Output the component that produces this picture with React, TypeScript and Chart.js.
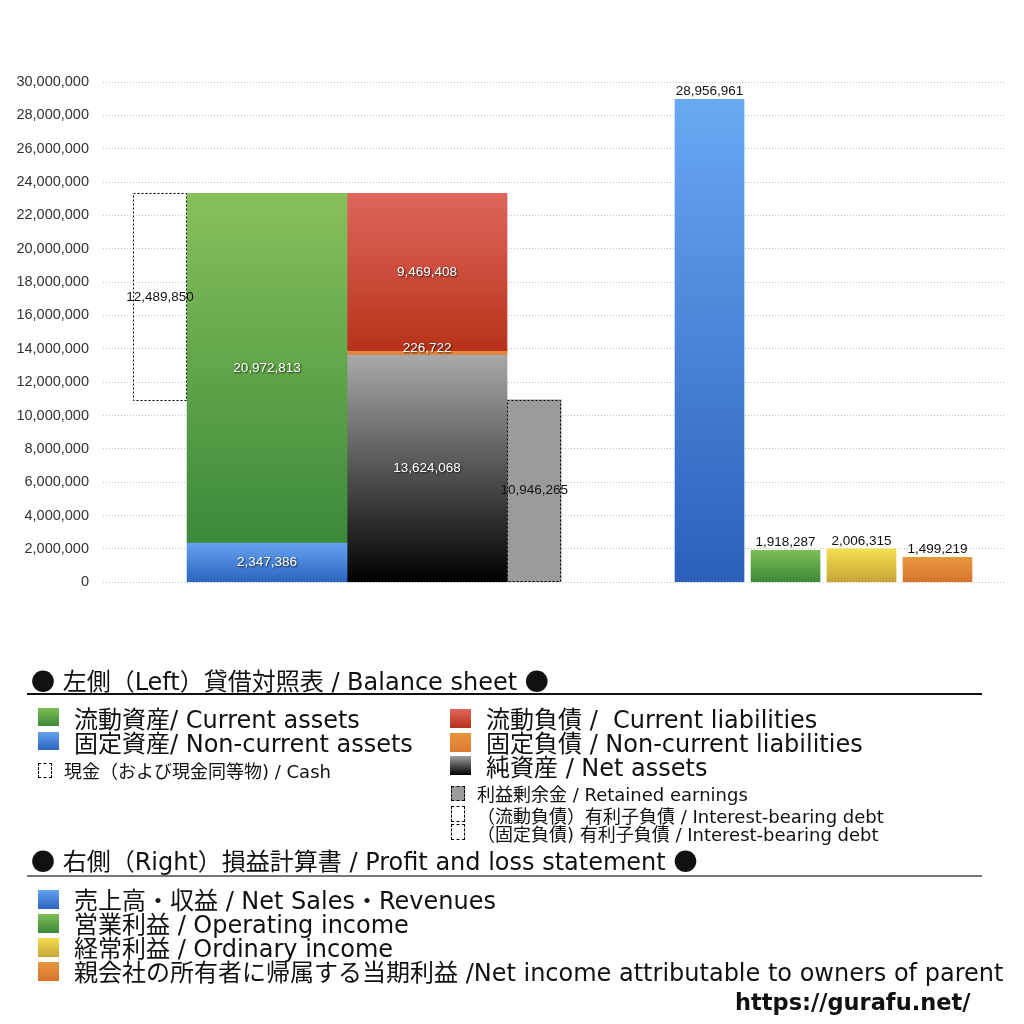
import { useEffect, useRef } from 'react';
import { Chart, registerables, type Plugin } from 'chart.js';

Chart.register(...registerables);

// 貸借対照表 (left side), bottom → top
const assetLabels = ['固定資産', '流動資産'];
const assetValues = [2347386, 20972813];
const claimLabels = ['純資産', '固定負債', '流動負債'];
const claimValues = [13624068, 226722, 9469408];
const cashValue = 12489850;
const retainedValue = 10946265;

// 損益計算書 (right side)
const plLabels = ['売上高・収益', '営業利益', '経常利益', '親会社の所有者に帰属する当期利益'];
const plValues = [28956961, 1918287, 2006315, 1499219];

const yMax = 30000000;
const yStep = 2000000;

// layout: slots on a hidden linear x axis (0..120)
const X_MAX = 120;
const X_CASH = 7.57;
const X_ASSETS = 21.8;
const X_CLAIMS = 43.06;
const X_RETAINED = 57.3;
const X_PL = [80.6, 90.7, 100.8, 110.9];

const NUM_FONT = '"Liberation Sans", Arial, sans-serif';
const FONT = '"DejaVu Sans", "Noto Sans CJK JP", sans-serif';
const CJK = '"Noto Sans CJK JP", sans-serif';

const ASSET_COLORS = [['#64a2ee', '#2d64c0'], ['#88c15b', '#3b893a']];
const CLAIM_COLORS = [['#a9a9a9', '#000000'], ['#ea8a3c', '#e07f32'], ['#de665c', '#b8321a']];
const PL_COLORS = [['#69a9f3', '#2c5fba'], ['#7ebe56', '#3d893a'], ['#f3df4f', '#c7a537'], ['#e6973f', '#d8742e']];

const grad = (top: string, bottom: string) => (c: any) => {
  const chart = c.chart;
  const y = chart.scales?.y;
  const raw = c.raw;
  if (!y || !raw || !chart.chartArea) return bottom;
  const v = raw.y;
  const lo = Array.isArray(v) ? Math.min(v[0], v[1]) : 0;
  const hi = Array.isArray(v) ? Math.max(v[0], v[1]) : v;
  const g = chart.ctx.createLinearGradient(0, y.getPixelForValue(hi), 0, y.getPixelForValue(lo));
  g.addColorStop(0, top);
  g.addColorStop(1, bottom);
  return g;
};

function stackRanges(values: number[]) {
  let acc = 0;
  return values.map(v => { const lo = acc; acc += v; return [lo, acc]; });
}

const barDecor: Plugin = {
  id: 'barDecor',
  afterDatasetsDraw(chart) {
    const ctx = chart.ctx;
    chart.data.datasets.forEach((ds: any, di) => {
      const meta = chart.getDatasetMeta(di);
      meta.data.forEach((el: any) => {
        if (!ds.dashed) return;
        const top = Math.min(el.y, el.base);
        const h = Math.abs(el.base - el.y);
        ctx.save();
        ctx.strokeStyle = '#000';
        ctx.lineWidth = 1;
        ctx.setLineDash([2, 2]);
        ctx.strokeRect(Math.round(el.x - el.width / 2) + 0.5, Math.round(top) + 0.5, Math.round(el.width) - 1, Math.round(h) - 1);
        ctx.restore();
      });
    });
    chart.data.datasets.forEach((ds: any, di) => {
      const meta = chart.getDatasetMeta(di);
      meta.data.forEach((el: any, i) => {
        const raw: any = ds.data[i];
        const v = Array.isArray(raw.y) ? raw.y[1] - raw.y[0] : raw.y;
        const text = v.toLocaleString('en-US');
        ctx.save();
        ctx.font = `13.5px ${NUM_FONT}`;
        ctx.textAlign = 'center';
        if (ds.labelMode === 'above') {
          ctx.textBaseline = 'bottom';
          ctx.fillStyle = '#111';
          ctx.fillText(text, el.x, Math.min(el.y, el.base) - 1);
        } else {
          ctx.textBaseline = 'middle';
          const cy = (el.y + el.base) / 2 + (ds.labelDy || 0);
          if (ds.labelMode === 'white') {
            ctx.shadowColor = 'rgba(0,0,0,0.75)';
            ctx.shadowBlur = 2;
            ctx.shadowOffsetX = 1;
            ctx.shadowOffsetY = 1;
            ctx.fillStyle = '#fff';
          } else {
            ctx.fillStyle = '#111';
          }
          ctx.fillText(text, el.x, cy);
        }
        ctx.restore();
      });
    });
  },
};

function BalanceChart() {
  const canvasRef = useRef<HTMLCanvasElement>(null);
  const chartRef = useRef<Chart | null>(null);

  useEffect(() => {
    if (!canvasRef.current) return;
    chartRef.current?.destroy();

    const assetRanges = stackRanges(assetValues);
    const claimRanges = stackRanges(claimValues);
    const assetTotal = assetRanges[assetRanges.length - 1][1];

    const datasets: any[] = [
      ...assetLabels.map((label, i) => ({
        label,
        data: [{ x: X_ASSETS, y: assetRanges[i] }],
        barThickness: 160,
        backgroundColor: grad(ASSET_COLORS[i][0], ASSET_COLORS[i][1]),
        labelMode: 'white',
      })),
      ...claimLabels.map((label, i) => ({
        label,
        data: [{ x: X_CLAIMS, y: claimRanges[i] }],
        barThickness: 160,
        backgroundColor: grad(CLAIM_COLORS[i][0], CLAIM_COLORS[i][1]),
        labelMode: 'white',
        labelDy: i === 1 ? -5 : 0,
      })),
      {
        label: '現金',
        data: [{ x: X_CASH, y: [assetTotal - cashValue, assetTotal] }],
        barThickness: 54,
        backgroundColor: 'rgba(255,255,255,0)',
        dashed: true,
        labelMode: 'black',
      },
      {
        label: '利益剰余金',
        data: [{ x: X_RETAINED, y: [0, retainedValue] }],
        barThickness: 54,
        backgroundColor: '#9b9b9b',
        dashed: true,
        labelMode: 'black',
      },
      {
        label: '損益計算書',
        data: plValues.map((v, i) => ({ x: X_PL[i], y: v })),
        barThickness: 69,
        backgroundColor: (c: any) => {
          const col = PL_COLORS[c.dataIndex] || PL_COLORS[0];
          return grad(col[0], col[1])(c);
        },
        labelMode: 'above',
      },
    ];
    datasets.forEach(d => { d.grouped = false; d.borderWidth = 0; });

    chartRef.current = new Chart(canvasRef.current, {
      type: 'bar',
      data: { labels: plLabels, datasets },
      options: {
        animation: false,
        responsive: true,
        maintainAspectRatio: false,
        layout: { padding: { top: 82, right: 18, bottom: 18, left: 0 } },
        plugins: { legend: { display: false }, tooltip: { enabled: false } },
        scales: {
          x: { type: 'linear', min: 0, max: X_MAX, display: false, offset: false },
          y: {
            min: 0,
            max: yMax,
            ticks: {
              stepSize: yStep,
              callback: (v: any) => Number(v).toLocaleString('en-US'),
              font: { size: 14.5, family: NUM_FONT },
              color: '#333',
              padding: 14,
            },
            grid: { color: '#c4c4c4', drawTicks: false, lineWidth: 1 },
            border: { display: false, dash: [1, 2] },
            afterFit: (s: any) => { s.width = 103; },
          },
        },
      },
      plugins: [barDecor],
    } as any);

    return () => { chartRef.current?.destroy(); chartRef.current = null; };
  }, []);

  return (
    <div style={{ position: 'absolute', left: 0, top: 0, width: 1024, height: 605 }}>
      <canvas ref={canvasRef} />
    </div>
  );
}

function Swatch({ x, cy, w, h, bg, dashed }: { x: number; cy: number; w: number; h: number; bg: string; dashed?: boolean }) {
  return (
    <div style={{
      position: 'absolute', left: x, top: cy - h / 2, width: w, height: h, background: bg,
      border: dashed ? '1px dashed #000' : 'none', boxSizing: 'border-box',
    }} />
  );
}

function Text({ x, cy, size, children, bold }: { x: number; cy: number; size: number; children: any; bold?: boolean }) {
  return (
    <div style={{
      position: 'absolute', left: x, top: cy - 16, height: 32, display: 'flex', alignItems: 'center',
      fontSize: size, fontWeight: bold ? 700 : 400, whiteSpace: 'pre', color: '#111',
    }}><span>{children}</span></div>
  );
}

const Dot = () => <span style={{ fontFamily: CJK }}>●</span>;

const lg = (a: string, b: string) => `linear-gradient(${a}, ${b})`;

function Legend() {
  return (
    <div style={{ position: 'absolute', left: 0, top: 0, width: 1024, height: 1024, fontFamily: FONT }}>
      <Text x={31} cy={679} size={24}><Dot /> 左側（Left）貸借対照表 / Balance sheet <Dot /></Text>
      <div style={{ position: 'absolute', left: 27, top: 693, width: 955, height: 1.5, background: '#111' }} />

      <Swatch x={38} cy={717} w={21} h={18} bg={lg('#7dbd55', '#3d8a3b')} />
      <Text x={74} cy={717} size={24}>流動資産/ Current assets</Text>
      <Swatch x={38} cy={741} w={21} h={18} bg={lg('#64a2ee', '#2d64c0')} />
      <Text x={74} cy={741} size={24}>固定資産/ Non-current assets</Text>
      <Swatch x={38} cy={770} w={14} h={15} bg="#fff" dashed />
      <Text x={64} cy={770} size={18}>現金（および現金同等物) / Cash</Text>

      <Swatch x={450} cy={718} w={21} h={19} bg={lg('#de665c', '#b8321a')} />
      <Text x={486} cy={717} size={24}>流動負債 /  Current liabilities</Text>
      <Swatch x={450} cy={742} w={21} h={19} bg={lg('#e9923e', '#dc7a2e')} />
      <Text x={486} cy={741} size={24}>固定負債 / Non-current liabilities</Text>
      <Swatch x={450} cy={765} w={21} h={19} bg={lg('#a0a0a0', '#000')} />
      <Text x={486} cy={765} size={24}>純資産 / Net assets</Text>
      <Swatch x={451} cy={793} w={14} h={15} bg="#9b9b9b" dashed />
      <Text x={477} cy={793} size={18}>利益剰余金 / Retained earnings</Text>
      <Swatch x={451} cy={814} w={14} h={16} bg="#fff" dashed />
      <Text x={477} cy={815} size={18}>（流動負債）有利子負債 / Interest-bearing debt</Text>
      <Swatch x={451} cy={832} w={14} h={16} bg="#fff" dashed />
      <Text x={477} cy={833} size={18}>（固定負債) 有利子負債 / Interest-bearing debt</Text>

      <Text x={31} cy={859} size={24}><Dot /> 右側（Right）損益計算書 / Profit and loss statement <Dot /></Text>
      <div style={{ position: 'absolute', left: 27, top: 875, width: 955, height: 1.5, background: '#777' }} />

      <Swatch x={38} cy={899} w={21} h={19} bg={lg('#64a2ee', '#2d64c0')} />
      <Text x={74} cy={898} size={24}>売上高・収益 / Net Sales・Revenues</Text>
      <Swatch x={38} cy={923} w={21} h={19} bg={lg('#7dbd55', '#3d8a3b')} />
      <Text x={74} cy={922} size={24}>営業利益 / Operating income</Text>
      <Swatch x={38} cy={947} w={21} h={19} bg={lg('#f3df4f', '#c7a537')} />
      <Text x={74} cy={946} size={24}>経常利益 / Ordinary income</Text>
      <Swatch x={38} cy={971} w={21} h={19} bg={lg('#e6973f', '#d8742e')} />
      <Text x={74} cy={970} size={24}>親会社の所有者に帰属する当期利益 /Net income attributable to owners of parent</Text>

      <Text x={735} cy={1002} size={22.5} bold>https://gurafu.net/</Text>
    </div>
  );
}

export default function App() {
  return (
    <div style={{ position: 'absolute', left: 0, top: 0, width: 1024, height: 1024, background: '#fff', overflow: 'hidden' }}>
      <BalanceChart />
      <Legend />
    </div>
  );
}
